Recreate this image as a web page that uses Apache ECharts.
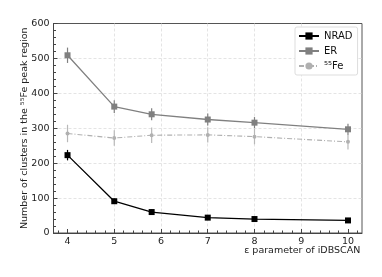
<!DOCTYPE html>
<html><head><meta charset="utf-8">
<script src="https://cdn.jsdelivr.net/npm/echarts@6/dist/echarts.min.js"></script>
<style>html,body{margin:0;padding:0;background:#fff}#c{width:382px;height:277px}</style>
</head><body><div id="c"></div>
<script>
const xVals = [4, 5, 5.8, 7, 8, 10];
const nradVals = [223, 91, 60, 44, 40, 36];
const nradErr = [15, 8, 7, 6, 6, 6];
const erVals = [509, 362, 340, 325, 316, 297];
const erErr = [22, 18, 17, 17, 16, 16];
const feVals = [285, 272, 280, 281, 276, 261];
const feErr = [25, 22, 22, 22, 22, 22];
const xTicks = [4, 5, 6, 7, 8, 9, 10];
const xMinorTicks = [3.8, 4.2, 4.4, 4.6, 4.8, 5.2, 5.4, 5.6, 5.8, 6.2, 6.4, 6.6, 6.8,
  7.2, 7.4, 7.6, 7.8, 8.2, 8.4, 8.6, 8.8, 9.2, 9.4, 9.6, 9.8, 10.2];

const FONT = 'DejaVu Sans';
const chart = echarts.init(document.getElementById('c'), null, {renderer: 'canvas'});

function pts(vals) { return xVals.map((x, i) => [x, vals[i]]); }
function errData(vals, errs) { return xVals.map((x, i) => [x, vals[i] - errs[i], vals[i] + errs[i]]); }
function errSeries(name, vals, errs, color) {
  return {
    type: 'custom', name: name, data: errData(vals, errs), z: 1,
    renderItem: function (params, api) {
      const lo = api.coord([api.value(0), api.value(1)]);
      const hi = api.coord([api.value(0), api.value(2)]);
      return {type: 'line', shape: {x1: lo[0], y1: lo[1], x2: hi[0], y2: hi[1]},
        style: {stroke: color, lineWidth: 1.2}};
    }
  };
}

const series = [
  {name: 'NRAD', type: 'line', data: pts(nradVals), symbol: 'rect', symbolSize: 6,
    lineStyle: {color: '#000', width: 1.3}, itemStyle: {color: '#000'}, z: 3},
  {name: 'ER', type: 'line', data: pts(erVals), symbol: 'rect', symbolSize: 6,
    lineStyle: {color: '#808080', width: 1.3}, itemStyle: {color: '#808080'}, z: 3},
  {name: '\u2075\u2075Fe', type: 'line', data: pts(feVals), symbol: 'circle', symbolSize: 4,
    lineStyle: {color: '#b0b0b0', width: 1.1, type: [5, 2, 1, 2]}, itemStyle: {color: '#b0b0b0'}, z: 3},
  errSeries('NRAD', nradVals, nradErr, '#000'),
  errSeries('ER', erVals, erErr, '#808080'),
  errSeries('\u2075\u2075Fe', feVals, feErr, '#b8b8b8')
];

const tickColor = '#444';
chart.setOption({
  animation: false,
  backgroundColor: '#fff',
  textStyle: {fontFamily: FONT},
  grid: {left: 53.5, right: 20, top: 23.5, bottom: 44, show: true, borderColor: '#555', borderWidth: 1,
    containLabel: false, outerBoundsMode: 'none'},
  legend: {
    data: ['NRAD', 'ER', '\u2075\u2075Fe'], orient: 'vertical', left: 295, top: 27,
    itemWidth: 20, itemHeight: 9, itemGap: 5,
    borderColor: '#ddd', borderWidth: 1, borderRadius: 2, padding: [4, 5, 4, 3],
    backgroundColor: '#fff',
    textStyle: {fontFamily: FONT, fontSize: 10, color: '#111'}
  },
  xAxis: [{
    type: 'value', min: 3.7, max: 10.3, interval: 1,
    axisLine: {show: true, lineStyle: {color: tickColor}},
    axisTick: {show: true, inside: true, length: 4, lineStyle: {color: tickColor}, customValues: xTicks},
    minorTick: {show: false},
    axisLabel: {fontFamily: FONT, fontSize: 9.5, color: '#222', margin: 4,
      customValues: xTicks, formatter: v => String(v)},
    splitLine: {show: true, lineStyle: {color: '#ddd', type: [3, 2], width: 0.8}, customValues: xTicks,
      showMinLine: false, showMaxLine: false},
    name: '\u03b5 parameter of iDBSCAN', nameLocation: 'middle', nameGap: 13, nameMoveOverlap: false,
    nameTextStyle: {fontFamily: FONT, fontSize: 9.5, color: '#222', verticalAlign: 'top', padding: [0, 0, 0, 189]}
  }, {
    type: 'value', min: 3.7, max: 10.3, position: 'bottom', offset: 0, gridIndex: 0,
    axisLine: {show: false},
    axisTick: {show: true, inside: true, length: 2.5, lineStyle: {color: tickColor}, customValues: xMinorTicks},
    axisLabel: {show: false},
    splitLine: {show: false}
  }],
  yAxis: {
    type: 'value', min: 0, max: 600, interval: 100,
    axisLine: {show: true, lineStyle: {color: tickColor}},
    axisTick: {show: true, inside: true, length: 4, lineStyle: {color: tickColor}},
    minorTick: {show: true, splitNumber: 5, length: 2.5, lineStyle: {color: tickColor}},
    axisLabel: {fontFamily: FONT, fontSize: 9.5, color: '#222', margin: 4},
    splitLine: {show: true, lineStyle: {color: '#ddd', type: [3, 2], width: 0.8}, showMinLine: false, showMaxLine: false},
    name: 'Number of clusters in the \u2075\u2075Fe peak region', nameLocation: 'middle', nameGap: 24, nameMoveOverlap: false,
    nameTextStyle: {fontFamily: FONT, fontSize: 9.5, color: '#222'}
  },
  series: series
});
</script></body></html>
